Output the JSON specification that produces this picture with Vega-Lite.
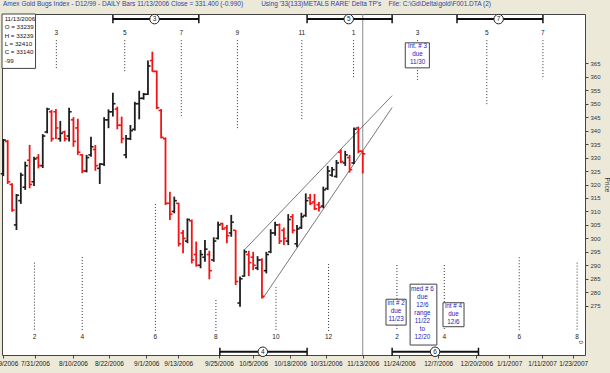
{
  "$schema": "https://vega.github.io/schema/vega-lite/v6.json",
  "width": 583,
  "height": 341,
  "autosize": {"type": "none"},
  "padding": {"left": 2, "top": 14, "right": 25, "bottom": 18},
  "background": "#ECE9D8",
  "config": {
    "font": "Liberation Sans",
    "view": {"fill": "white", "stroke": "#444", "strokeWidth": 1},
    "axis": {"labelOverlap": false, "labelFlush": false, "labelBound": false, "grid": false, "domain": false, "tickSize": 3, "tickColor": "#444", "labelPadding": 2},
    "axisX": {"labelFontSize": 6.5, "labelColor": "#222"},
    "axisY": {"labelFontSize": 6, "labelColor": "#333", "titleFontSize": 6.5, "titleFontWeight": "normal", "titleColor": "#333", "titlePadding": 3}
  },
  "resolve": {"axis": {"x": "independent", "y": "independent"}},
  "title": {
    "text": "Amex Gold Bugs Index - D12/99  - DAILY Bars  11/13/2006 Close = 331.400 (-0.990)\u00a0\u00a0\u00a0\u00a0\u00a0\u00a0\u00a0\u00a0\u00a0\u00a0Using '33(133)METALS RARE' Delta TP's\u00a0\u00a0\u00a0\u00a0File: C:\\Gd\\Delta\\gold\\F001.DTA (2)",
    "anchor": "start", "frame": "group", "fontSize": 6.5, "fontWeight": "normal", "color": "#2f3fa8", "offset": 5, "dx": 1, "font": "Liberation Sans"
  },
  "datasets": {
    "bars": [
      {"i":0,"o":324,"h":336.9,"l":323.1,"c":336.5},
      {"i":1,"o":336,"h":336.5,"l":320.2,"c":321},
      {"i":2,"o":320,"h":320.5,"l":309.9,"c":310.5},
      {"i":3,"o":305,"h":316.5,"l":303.1,"c":316},
      {"i":4,"o":314,"h":324.4,"l":312.8,"c":323.5},
      {"i":5,"o":319,"h":328.5,"l":318,"c":327},
      {"i":6,"o":329,"h":334.7,"l":318.6,"c":320},
      {"i":7,"o":321,"h":330.3,"l":319.4,"c":329.5},
      {"i":8,"o":330,"h":331.3,"l":326,"c":327},
      {"i":9,"o":327,"h":338.7,"l":326.1,"c":338},
      {"i":10,"o":339.5,"h":348.5,"l":339,"c":348},
      {"i":11,"o":347,"h":347.7,"l":335.9,"c":337},
      {"i":12,"o":347,"h":348,"l":336.9,"c":341},
      {"i":13,"o":337,"h":343.6,"l":335.9,"c":339},
      {"i":14,"o":339.5,"h":340,"l":336,"c":337},
      {"i":15,"o":338,"h":348.5,"l":336,"c":347},
      {"i":16,"o":344,"h":345,"l":334,"c":336},
      {"i":17,"o":341,"h":344.4,"l":331,"c":332},
      {"i":18,"o":331,"h":331.3,"l":324.2,"c":325},
      {"i":19,"o":325,"h":331,"l":324.5,"c":330},
      {"i":20,"o":331,"h":337.7,"l":330.3,"c":334},
      {"i":21,"o":333,"h":334.7,"l":325.1,"c":327},
      {"i":22,"o":326,"h":327.9,"l":320.2,"c":327.6},
      {"i":23,"o":327.5,"h":345,"l":326.9,"c":344},
      {"i":24,"o":344,"h":347.9,"l":340.9,"c":347},
      {"i":25,"o":347,"h":354.1,"l":345.2,"c":350},
      {"i":26,"o":348,"h":348.9,"l":340.5,"c":342},
      {"i":27,"o":342,"h":345.2,"l":335.3,"c":337},
      {"i":28,"o":331,"h":338.4,"l":329.7,"c":337},
      {"i":29,"o":337,"h":342.1,"l":336.5,"c":340},
      {"i":30,"o":340.5,"h":350.7,"l":340,"c":350},
      {"i":31,"o":350,"h":354.8,"l":344.2,"c":352},
      {"i":32,"o":352,"h":354,"l":351.5,"c":353.5},
      {"i":33,"o":353.5,"h":366,"l":353.2,"c":364},
      {"i":34,"o":366,"h":369.3,"l":361.9,"c":362},
      {"i":35,"o":362,"h":362.3,"l":348,"c":348.5},
      {"i":36,"o":347.5,"h":348,"l":337.1,"c":337.5},
      {"i":37,"o":337,"h":337.5,"l":312.4,"c":313},
      {"i":38,"o":313,"h":317.3,"l":306.8,"c":309},
      {"i":39,"o":310,"h":315.5,"l":309.3,"c":314},
      {"i":40,"o":313,"h":313.2,"l":297,"c":298},
      {"i":41,"o":302,"h":303.1,"l":294.5,"c":300},
      {"i":42,"o":299,"h":307.4,"l":298.2,"c":307},
      {"i":43,"o":306.5,"h":307,"l":290.7,"c":292},
      {"i":44,"o":294,"h":298.8,"l":289.5,"c":290},
      {"i":45,"o":290,"h":295.7,"l":288.9,"c":294},
      {"i":46,"o":293,"h":299.4,"l":291.3,"c":296},
      {"i":47,"o":294,"h":295.4,"l":284.8,"c":288},
      {"i":48,"o":292,"h":300.4,"l":291.3,"c":299},
      {"i":49,"o":300,"h":306.2,"l":299.6,"c":305},
      {"i":50,"o":305.5,"h":305.8,"l":303.1,"c":303.5},
      {"i":51,"o":304,"h":305,"l":298.2,"c":301},
      {"i":52,"o":302,"h":308.7,"l":300.6,"c":306},
      {"i":53,"o":303,"h":303.1,"l":282.7,"c":284},
      {"i":54,"o":276,"h":285.8,"l":274.6,"c":285},
      {"i":55,"o":286,"h":295.9,"l":285.8,"c":295},
      {"i":56,"o":294,"h":295.4,"l":286,"c":291},
      {"i":57,"o":293,"h":295,"l":288.2,"c":290},
      {"i":58,"o":289,"h":293.4,"l":288.2,"c":292},
      {"i":59,"o":292,"h":292.6,"l":277.7,"c":278.5},
      {"i":60,"o":288,"h":295,"l":287,"c":294},
      {"i":61,"o":295,"h":303.4,"l":294.5,"c":302},
      {"i":62,"o":302,"h":306.2,"l":301,"c":305},
      {"i":63,"o":305,"h":305.5,"l":297.9,"c":299},
      {"i":64,"o":303,"h":304,"l":297.5,"c":300},
      {"i":65,"o":299,"h":309,"l":297.5,"c":307},
      {"i":66,"o":308,"h":309,"l":301.9,"c":303},
      {"i":67,"o":298,"h":305,"l":296.7,"c":303.5},
      {"i":68,"o":304,"h":309.5,"l":303.5,"c":308},
      {"i":69,"o":308.5,"h":316.7,"l":308,"c":314},
      {"i":70,"o":315,"h":316.5,"l":312.4,"c":313},
      {"i":71,"o":313.5,"h":316.5,"l":310.5,"c":311},
      {"i":72,"o":312.5,"h":313.5,"l":310,"c":311.5},
      {"i":73,"o":312,"h":319.2,"l":311.2,"c":318},
      {"i":74,"o":318.5,"h":326.9,"l":318,"c":325},
      {"i":75,"o":323.5,"h":326.5,"l":322.9,"c":325.5},
      {"i":76,"o":323,"h":329.1,"l":322.5,"c":328},
      {"i":77,"o":332,"h":333.1,"l":327.9,"c":328.5},
      {"i":78,"o":328,"h":332.5,"l":326.9,"c":331},
      {"i":79,"o":330,"h":331,"l":324.4,"c":325.5},
      {"i":80,"o":328,"h":341.2,"l":327.6,"c":340.5},
      {"i":81,"o":341,"h":341.5,"l":331.6,"c":332.39},
      {"i":82,"o":332.39,"h":332.39,"l":324.1,"c":331.4}
    ],
    "dots": [
      {"i":12.1,"p":373.6,"p2":362.9},
      {"i":27.7,"p":373.6,"p2":361.4},
      {"i":40.6,"p":373.6,"p2":345.4},
      {"i":53.4,"p":373.6,"p2":340.2},
      {"i":68.1,"p":373.6,"p2":344.2},
      {"i":79.9,"p":373.6,"p2":359.2},
      {"i":94.5,"p":373.6,"p2":358.8},
      {"i":110.3,"p":373.6,"p2":349.5},
      {"i":123.1,"p":373.6,"p2":359.5},
      {"i":7.1,"p":291.0,"p2":265.6},
      {"i":18.0,"p":293.1,"p2":265.6},
      {"i":34.7,"p":312.8,"p2":265.6},
      {"i":48.5,"p":277.1,"p2":265.6},
      {"i":62.2,"p":282.0,"p2":265.6},
      {"i":74.2,"p":290.5,"p2":265.6},
      {"i":89.8,"p":290.1,"p2":265.6},
      {"i":100.6,"p":290.1,"p2":265.6},
      {"i":117.7,"p":293.0,"p2":265.6},
      {"i":130.9,"p":291.0,"p2":265.6}
    ],
    "nums": [
      {"i":12.1,"p":376.3,"t":"3"},
      {"i":27.7,"p":376.3,"t":"5"},
      {"i":40.6,"p":376.3,"t":"7"},
      {"i":53.4,"p":376.3,"t":"9"},
      {"i":68.1,"p":376.3,"t":"11"},
      {"i":79.9,"p":376.3,"t":"1"},
      {"i":94.5,"p":376.3,"t":"3"},
      {"i":110.3,"p":376.3,"t":"5"},
      {"i":123.1,"p":376.3,"t":"7"},
      {"i":7.1,"p":263.4,"t":"2"},
      {"i":18.0,"p":263.4,"t":"4"},
      {"i":34.7,"p":263.4,"t":"6"},
      {"i":48.5,"p":263.4,"t":"8"},
      {"i":62.2,"p":263.4,"t":"10"},
      {"i":74.2,"p":263.4,"t":"12"},
      {"i":89.8,"p":263.4,"t":"2"},
      {"i":100.6,"p":263.4,"t":"4"},
      {"i":117.7,"p":263.4,"t":"6"},
      {"i":130.9,"p":263.4,"t":"8"}
    ],
    "brk": [
      {"i":25.0,"i2":44.6,"p":381.4},
      {"i":69.3,"i2":88.7,"p":381.4},
      {"i":103.5,"i2":123.1,"p":381.4},
      {"i":49.4,"i2":69.3,"p":257.9},
      {"i":88.7,"i2":108.4,"p":257.9}
    ],
    "caps": [
      {"i":25.0,"p":379.9,"p2":382.9},
      {"i":44.6,"p":379.9,"p2":382.9},
      {"i":69.3,"p":379.9,"p2":382.9},
      {"i":88.7,"p":379.9,"p2":382.9},
      {"i":103.5,"p":379.9,"p2":382.9},
      {"i":123.1,"p":379.9,"p2":382.9},
      {"i":49.4,"p":256.4,"p2":259.4},
      {"i":69.3,"p":256.4,"p2":259.4},
      {"i":88.7,"p":256.4,"p2":259.4},
      {"i":108.4,"p":256.4,"p2":259.4}
    ],
    "circ": [
      {"i":34.5,"p":381.4,"t":"3"},
      {"i":78.8,"p":381.4,"t":"5"},
      {"i":113.0,"p":381.4,"t":"7"},
      {"i":59.2,"p":257.9,"t":"4"},
      {"i":98.5,"p":257.9,"t":"6"}
    ],
    "boxes": [
      {"i":91.7,"i2":97.2,"p":372.6,"p2":363.3,"ti":94.5,"tp":371.3,"t":"int. # 3|due|11/30"},
      {"i":87.3,"i2":91.9,"p":277.4,"p2":267.8,"ti":89.6,"tp":276.1,"t":"int # 2|due|11/23"},
      {"i":92.8,"i2":98.9,"p":283.0,"p2":260.4,"ti":95.6,"tp":281.3,"t":"med # 6|due|12/6|range|11/22|to|12/20"},
      {"i":100.3,"i2":105.1,"p":276.1,"p2":267.2,"ti":102.7,"tp":274.9,"t":"int # 4|due|12/6"}
    ],
    "info": [
      {"i":-0.3,"i2":7.35,"p":383.3,"p2":363.1,"ti":0.3,"tp":382.6,"t":"11/13/2006|O = 33239|H = 33239|L = 32410|C = 33140|\u00a0\u00a0\u00a0\u00a0-99"}
    ],
    "trend": [
      {"i":55.1,"p":295.9,"i2":88.7,"p2":353.0},
      {"i":59.2,"p":277.7,"i2":88.7,"p2":348.6}
    ],
    "today": [{"i":82}],
    "zero": [{"i":131.8,"p":261.5,"t":"0"}]
  },
  "layer": [
    {
      "data": {"name": "dots"},
      "mark": {"type": "rule", "strokeDash": [1, 2], "strokeWidth": 1, "color": "#333"},
      "encoding": {
        "x": {"field": "i", "type": "quantitative",
          "scale": {"domain": [-0.3, 132.7], "nice": false, "zero": false},
          "axis": {"orient": "bottom", "title": null, "labelOverlap": false,
            "values": [0, 7.2, 15.9, 24.1, 32.6, 39.9, 49.2, 57, 65.4, 73.6, 82, 90.3, 99.2, 107.9, 115.4, 122.9, 130],
            "labelExpr": "['7/19/2006','7/31/2006','8/10/2006','8/22/2006','9/1/2006','9/13/2006','9/25/2006','10/5/2006','10/18/2006','10/31/2006','11/13/2006','11/24/2006','12/7/2006','12/20/2006','1/1/2007','1/11/2007','1/23/2007'][indexof([0, 7.2, 15.9, 24.1, 32.6, 39.9, 49.2, 57, 65.4, 73.6, 82, 90.3, 99.2, 107.9, 115.4, 122.9, 130], datum.value)]"}},
        "y": {"field": "p", "type": "quantitative",
          "scale": {"domain": [256.7, 383.3], "nice": false, "zero": false},
          "axis": {"orient": "right", "title": "Price", "titleAngle": 90, "labelOverlap": false,
            "values": [275, 280, 285, 290, 295, 300, 305, 310, 315, 320, 325, 330, 335, 340, 345, 350, 355, 360, 365]}},
        "y2": {"field": "p2"}
      }
    },
    {
      "data": {"name": "today"},
      "mark": {"type": "rule", "color": "#8a8a8a", "strokeWidth": 1},
      "encoding": {"x": {"field": "i", "type": "quantitative", "axis": null}}
    },
    {
      "data": {"name": "trend"},
      "mark": {"type": "rule", "color": "#555", "strokeWidth": 0.8},
      "encoding": {
        "x": {"field": "i", "type": "quantitative", "axis": null},
        "y": {"field": "p", "type": "quantitative", "axis": null},
        "x2": {"field": "i2"}, "y2": {"field": "p2"}
      }
    },
    {
      "data": {"name": "bars"},
      "mark": {"type": "rule", "strokeWidth": 1.8},
      "encoding": {
        "x": {"field": "i", "type": "quantitative", "axis": null},
        "y": {"field": "l", "type": "quantitative", "axis": null},
        "y2": {"field": "h"},
        "color": {"condition": {"test": "datum.c < datum.o", "value": "#f01414"}, "value": "#1e1e1e"}
      }
    },
    {
      "data": {"name": "bars"},
      "mark": {"type": "tick", "orient": "horizontal", "size": 2.6, "thickness": 1.6, "xOffset": -1.3, "opacity": 1},
      "encoding": {
        "x": {"field": "i", "type": "quantitative", "axis": null},
        "y": {"field": "o", "type": "quantitative", "axis": null},
        "color": {"condition": {"test": "datum.c < datum.o", "value": "#f01414"}, "value": "#1e1e1e"}
      }
    },
    {
      "data": {"name": "bars"},
      "mark": {"type": "tick", "orient": "horizontal", "size": 2.6, "thickness": 1.6, "xOffset": 1.3, "opacity": 1},
      "encoding": {
        "x": {"field": "i", "type": "quantitative", "axis": null},
        "y": {"field": "c", "type": "quantitative", "axis": null},
        "color": {"condition": {"test": "datum.c < datum.o", "value": "#f01414"}, "value": "#1e1e1e"}
      }
    },
    {
      "data": {"name": "brk"},
      "mark": {"type": "rule", "color": "#111", "strokeWidth": 2},
      "encoding": {
        "x": {"field": "i", "type": "quantitative", "axis": null},
        "x2": {"field": "i2"},
        "y": {"field": "p", "type": "quantitative", "axis": null}
      }
    },
    {
      "data": {"name": "caps"},
      "mark": {"type": "rule", "color": "#111", "strokeWidth": 1.5},
      "encoding": {
        "x": {"field": "i", "type": "quantitative", "axis": null},
        "y": {"field": "p", "type": "quantitative", "axis": null},
        "y2": {"field": "p2"}
      }
    },
    {
      "data": {"name": "circ"},
      "mark": {"type": "point", "shape": "circle", "filled": true, "fill": "white", "stroke": "#222", "strokeWidth": 1, "size": 90, "opacity": 1},
      "encoding": {
        "x": {"field": "i", "type": "quantitative", "axis": null},
        "y": {"field": "p", "type": "quantitative", "axis": null}
      }
    },
    {
      "data": {"name": "circ"},
      "mark": {"type": "text", "fontSize": 6.5, "color": "#222", "baseline": "middle", "align": "center"},
      "encoding": {
        "x": {"field": "i", "type": "quantitative", "axis": null},
        "y": {"field": "p", "type": "quantitative", "axis": null},
        "text": {"field": "t"}
      }
    },
    {
      "data": {"name": "nums"},
      "mark": {"type": "text", "fontSize": 6.5, "color": "#222", "baseline": "middle", "align": "center"},
      "encoding": {
        "x": {"field": "i", "type": "quantitative", "axis": null},
        "y": {"field": "p", "type": "quantitative", "axis": null},
        "text": {"field": "t"}
      }
    },
    {
      "data": {"name": "zero"},
      "mark": {"type": "text", "fontSize": 6, "color": "#333", "baseline": "middle", "align": "center", "angle": 90},
      "encoding": {
        "x": {"field": "i", "type": "quantitative", "axis": null},
        "y": {"field": "p", "type": "quantitative", "axis": null},
        "text": {"field": "t"}
      }
    },
    {
      "data": {"name": "boxes"},
      "mark": {"type": "rect", "fill": "white", "stroke": "#444", "strokeWidth": 1},
      "encoding": {
        "x": {"field": "i", "type": "quantitative", "axis": null},
        "x2": {"field": "i2"},
        "y": {"field": "p", "type": "quantitative", "axis": null},
        "y2": {"field": "p2"}
      }
    },
    {
      "data": {"name": "boxes"},
      "mark": {"type": "text", "fontSize": 6.3, "color": "#2323b8", "baseline": "middle", "align": "center", "lineBreak": "|", "lineHeight": 8},
      "encoding": {
        "x": {"field": "ti", "type": "quantitative", "axis": null},
        "y": {"field": "tp", "type": "quantitative", "axis": null},
        "text": {"field": "t"}
      }
    },
    {
      "data": {"name": "info"},
      "mark": {"type": "rect", "fill": "white", "stroke": "#444", "strokeWidth": 1},
      "encoding": {
        "x": {"field": "i", "type": "quantitative", "axis": null},
        "x2": {"field": "i2"},
        "y": {"field": "p", "type": "quantitative", "axis": null},
        "y2": {"field": "p2"}
      }
    },
    {
      "data": {"name": "info"},
      "mark": {"type": "text", "fontSize": 6.2, "color": "#111", "baseline": "top", "align": "left", "lineBreak": "|", "lineHeight": 8.4},
      "encoding": {
        "x": {"field": "ti", "type": "quantitative", "axis": null},
        "y": {"field": "tp", "type": "quantitative", "axis": null},
        "text": {"field": "t"}
      }
    }
  ]
}
